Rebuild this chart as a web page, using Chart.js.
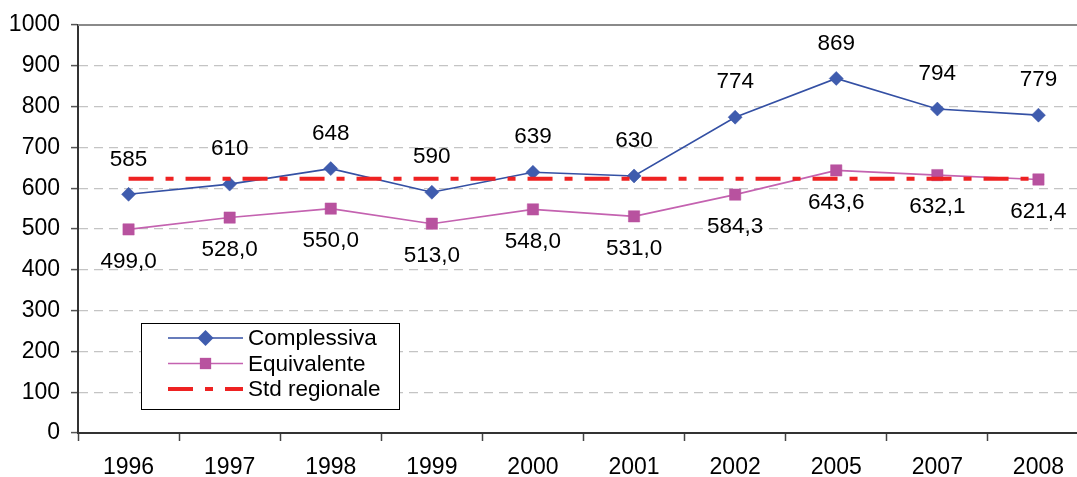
<!DOCTYPE html>
<html>
<head>
<meta charset="utf-8">
<script src="https://cdn.jsdelivr.net/npm/chart.js@4"></script>
<style>
  html, body { margin: 0; padding: 0; background: #fff; overflow: hidden; }
  #wrap { width: 1100px; height: 477px; }
</style>
</head>
<body>
<div id="wrap"><canvas id="myChart"></canvas></div>
<script>
const anni = ["1996", "1997", "1998", "1999", "2000", "2001", "2002", "2005", "2007", "2008"];
const complessiva = [585, 610, 648, 590, 639, 630, 774, 869, 794, 779];
const equivalente = [499.0, 528.0, 550.0, 513.0, 548.0, 531.0, 584.3, 643.6, 632.1, 621.4];
const stdRegionale = [623, 623, 623, 623, 623, 623, 623, 623, 623, 623];
const yTicks = [0, 100, 200, 300, 400, 500, 600, 700, 800, 900, 1000];

const FONT = "'Liberation Sans', Arial, sans-serif";

// etichette dei valori: sopra per Complessiva, sotto per Equivalente
const valueLabels = {
  id: "valueLabels",
  afterDatasetsDraw(chart) {
    const ctx = chart.ctx;
    ctx.save();
    ctx.font = "22.5px " + FONT;
    ctx.fillStyle = "#000";
    ctx.textAlign = "center";
    ctx.textBaseline = "middle";
    chart.getDatasetMeta(1).data.forEach((p, i) => {
      ctx.fillText(String(complessiva[i]), p.x, p.y - 35);
    });
    chart.getDatasetMeta(2).data.forEach((p, i) => {
      ctx.fillText(equivalente[i].toFixed(1).replace(".", ","), p.x, p.y + 32);
    });
    ctx.restore();
  },
};

// bordo superiore dell'area e legenda riquadrata
const boxLegend = {
  id: "boxLegend",
  afterDraw(chart) {
    const ctx = chart.ctx;
    const a = chart.chartArea;
    ctx.save();
    ctx.strokeStyle = "#8a8a8a";
    ctx.lineWidth = 2;
    ctx.beginPath();
    ctx.moveTo(a.left, a.top);
    ctx.lineTo(a.right, a.top);
    ctx.stroke();

    const x = a.left + 63, y = a.top + 298, w = 258, h = 86;
    ctx.fillStyle = "#fff";
    ctx.fillRect(x, y, w, h);
    ctx.strokeStyle = "#000";
    ctx.lineWidth = 1;
    ctx.strokeRect(x + 0.5, y + 0.5, w, h);

    const order = [1, 2, 0];
    order.forEach((di, row) => {
      const ds = chart.data.datasets[di];
      const cy = y + 15 + row * 25.5;
      const x1 = x + 27, x2 = x + 102;
      ctx.save();
      ctx.strokeStyle = ds.borderColor;
      ctx.lineWidth = ds.borderWidth;
      ctx.setLineDash(ds.borderDash || []);
      ctx.beginPath();
      ctx.moveTo(x1, cy);
      ctx.lineTo(x2, cy);
      ctx.stroke();
      ctx.restore();
      if (ds.pointRadius > 0) {
        ctx.fillStyle = ds.pointBackgroundColor;
        const mx = (x1 + x2) / 2;
        if (ds.pointStyle === "rectRot") {
          const r = ds.pointRadius + 1;
          ctx.beginPath();
          ctx.moveTo(mx, cy - r);
          ctx.lineTo(mx + r, cy);
          ctx.lineTo(mx, cy + r);
          ctx.lineTo(mx - r, cy);
          ctx.closePath();
          ctx.fill();
        } else {
          const s = ds.pointRadius * 1.414;
          ctx.fillRect(mx - s / 2, cy - s / 2, s, s);
        }
      }
      ctx.fillStyle = "#000";
      ctx.font = "22.5px " + FONT;
      ctx.textAlign = "left";
      ctx.textBaseline = "middle";
      ctx.fillText(ds.label, x + 107, cy + 1);
    });
    ctx.restore();
  },
};

const ctx = document.getElementById("myChart");

new Chart(ctx, {
  type: "line",
  data: {
    labels: anni,
    datasets: [
      {
        label: "Std regionale",
        data: stdRegionale,
        borderColor: "#ee2222",
        backgroundColor: "#ee2222",
        borderWidth: 4,
        borderDash: [25, 12, 8, 12],
        pointRadius: 0,
        pointHoverRadius: 0,
      },
      {
        label: "Complessiva",
        data: complessiva,
        borderColor: "#3450a4",
        backgroundColor: "#3f5cae",
        pointBackgroundColor: "#3f5cae",
        pointBorderColor: "#3450a4",
        borderWidth: 1.6,
        pointStyle: "rectRot",
        pointRadius: 7,
        pointBorderWidth: 0.5,
      },
      {
        label: "Equivalente",
        data: equivalente,
        borderColor: "#c462b0",
        backgroundColor: "#b8529f",
        pointBackgroundColor: "#b8529f",
        pointBorderColor: "#b8529f",
        borderWidth: 1.6,
        pointStyle: "rect",
        pointRadius: 8,
        pointBorderWidth: 0.5,
      },
    ],
  },
  options: {
    responsive: true,
    maintainAspectRatio: false,
    animation: false,
    layout: {
      padding: { top: 25, right: 11, left: 0, bottom: 0 },
    },
    plugins: {
      legend: { display: false },
      tooltip: { enabled: false },
    },
    scales: {
      x: {
        offset: true,
        afterFit: (axis) => { axis.height = 44; },
        grid: {
          offset: true,
          drawOnChartArea: false,
          drawTicks: true,
          tickLength: 8,
          tickColor: "#444",
          tickWidth: 1.5,
        },
        border: { display: true, color: "#333", width: 2 },
        ticks: {
          color: "#000",
          font: { family: FONT, size: 23, lineHeight: 1 },
          padding: 15,
          maxRotation: 0,
        },
      },
      y: {
        min: 0,
        max: 1000,
        afterFit: (axis) => { axis.width = 78; },
        afterBuildTicks: (axis) => {
          axis.ticks = yTicks.map((v) => ({ value: v }));
        },
        grid: {
          color: "#c4c4c4",
          lineWidth: 1.2,
          drawTicks: true,
          tickLength: 7,
          tickColor: "#555",
          tickWidth: 1.5,
        },
        border: { display: true, color: "#333", width: 2, dash: [9, 6] },
        ticks: {
          color: "#000",
          font: { family: FONT, size: 23, lineHeight: 1 },
          padding: 11,
          callback: (v) => String(v),
        },
      },
    },
  },
  plugins: [valueLabels, boxLegend],
});
</script>
</body>
</html>
